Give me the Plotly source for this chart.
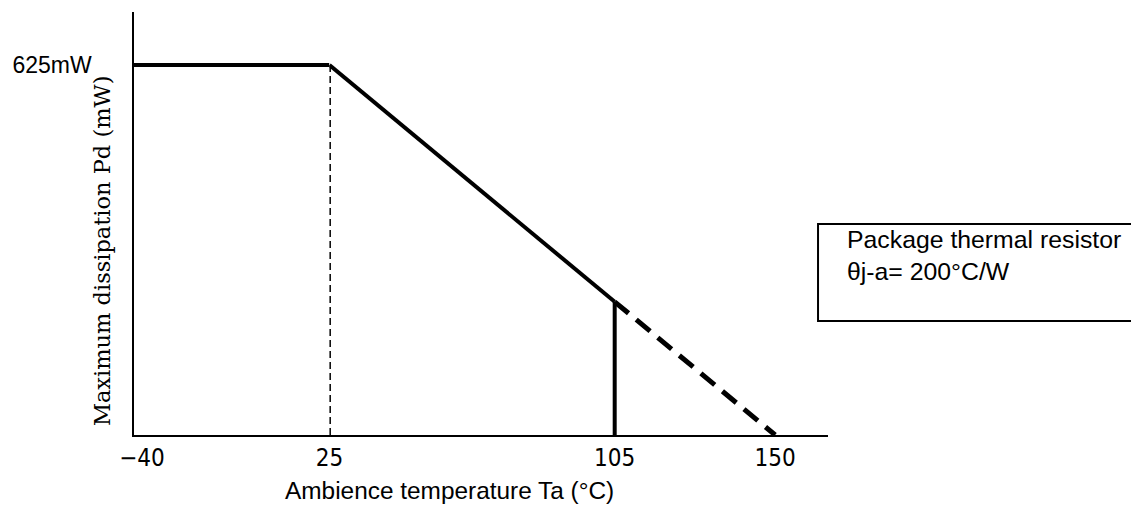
import plotly.graph_objects as go

# ---- data ----
temp_flat = [-40, 25]          # °C, constant-power region
pd_flat = [625, 625]           # mW
temp_derate = [25, 105]        # °C, solid derating segment
pd_derate = [625, 225]         # mW
temp_ext = [105, 150]          # °C, dashed extension
pd_ext = [225, 0]              # mW

x_ticks_low = [-40]
x_ticks_high = [25, 105, 150]
y_ticks = [625]
y_tick_labels = ["625mW"]

x_title = "Ambience temperature Ta (°C)"
y_title = "Maximum dissipation Pd (mW)"
note_lines = ["Package thermal resistor", "θj-a= 200°C/W"]

# ---- layout geometry (page has an 8px body margin) ----
OFF = 8
W, H = 1139 - OFF, 506 - OFF
L, R, T, B = 132 - OFF, 311, 12 - OFF, 71
plot_w = W - L - R
plot_h = H - T - B
split = (328 - 132) / plot_w   # broken x-axis: -40..25 compressed

tick_font = dict(family="Liberation Sans Narrow, DejaVu Sans Condensed, Liberation Sans", size=24, color="black")
text_font = dict(family="Liberation Sans, Arial", size=23, color="black")
title_font = dict(family="Liberation Sans, Arial", size=24.4, color="black")
note_font = dict(family="Liberation Sans, Arial", size=24.8, color="black")

fig = go.Figure()

fig.add_trace(go.Scatter(x=temp_flat, y=pd_flat, mode="lines", xaxis="x", yaxis="y",
                         line=dict(color="black", width=4)))
fig.add_trace(go.Scatter(x=[temp_derate[0], temp_derate[0]], y=[0, pd_derate[0]], mode="lines",
                         xaxis="x2", yaxis="y", line=dict(color="black", width=3, dash="7px,4px")))
fig.add_trace(go.Scatter(x=temp_derate, y=pd_derate, mode="lines", xaxis="x2", yaxis="y",
                         line=dict(color="black", width=4)))
fig.add_trace(go.Scatter(x=[temp_derate[1], temp_derate[1]], y=[0, pd_derate[1]], mode="lines",
                         xaxis="x2", yaxis="y", line=dict(color="black", width=4)))
fig.add_trace(go.Scatter(x=temp_ext, y=pd_ext, mode="lines", xaxis="x2", yaxis="y",
                         line=dict(color="black", width=5, dash="18px,10px")))

x2_end = 25 + (828 - 328) / ((775 - 328) / (150 - 25))
y_top = 625 * (435 - 12) / (435 - 65)

fig.update_layout(
    width=W, height=H,
    margin=dict(l=L, r=R, t=T, b=B),
    plot_bgcolor="white", paper_bgcolor="white",
    showlegend=False, hovermode=False,
    xaxis=dict(domain=[0, split], range=[temp_flat[0], temp_flat[1]], showline=True,
               linecolor="black", linewidth=1.5, showgrid=False, zeroline=False,
               tickvals=x_ticks_low, ticks="", tickfont=tick_font, ticklabelstandoff=0,
               ticklabelshift=8, anchor="y"),
    xaxis2=dict(domain=[split, 1], range=[temp_derate[0], x2_end], showline=True,
                linecolor="black", linewidth=1.5, showgrid=False, zeroline=False,
                tickvals=x_ticks_high, ticks="", tickfont=tick_font, ticklabelstandoff=0,
                anchor="y"),
    yaxis=dict(range=[0, y_top], showline=True, linecolor="black", linewidth=1.5,
               showgrid=False, zeroline=False, tickvals=y_ticks, ticktext=y_tick_labels,
               ticks="", tickfont=text_font, ticklabelstandoff=36),
)

# convert reference-screen pixels to paper coords
def px_x(px):
    return (px - 132) / plot_w

def px_y(py):
    return (435 - py) / plot_h

fig.add_annotation(text=x_title, xref="paper", yref="paper", x=px_x(448), y=px_y(490),
                   xanchor="center", yanchor="middle", showarrow=False, font=title_font)
fig.add_annotation(text=y_title, xref="paper", yref="paper", x=px_x(100), y=px_y(251),
                   xanchor="center", yanchor="middle", showarrow=False, textangle=-90,
                   font=dict(family="DejaVu Serif", size=22.5, color="black"))
fig.add_annotation(text="<br>".join(note_lines), xref="paper", yref="paper",
                   x=px_x(845), y=px_y(256), xanchor="left", yanchor="middle", align="left",
                   showarrow=False, font=note_font)
fig.add_shape(type="rect", xref="paper", yref="paper",
              x0=px_x(818), x1=px_x(1150), y0=px_y(321), y1=px_y(224),
              line=dict(color="black", width=2), fillcolor="rgba(0,0,0,0)")

fig.write_html("out.html")
